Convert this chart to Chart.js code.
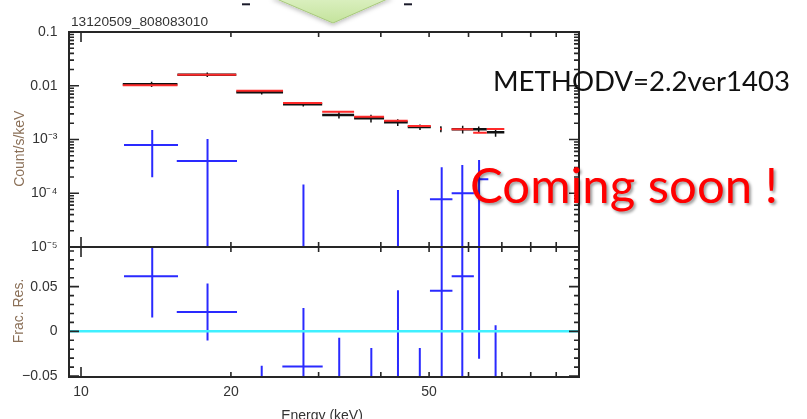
<!DOCTYPE html>
<html>
<head>
<meta charset="utf-8">
<script src="https://cdn.jsdelivr.net/npm/chart.js@4.4.1/dist/chart.umd.min.js"></script>
<style>
html, body { margin: 0; padding: 0; background: #fff; }
#wrap { position: relative; width: 807px; height: 419px; overflow: hidden; }
canvas { position: absolute; left: 0; top: 0; }
.txt { position: absolute; white-space: nowrap; line-height: 1; transform-origin: 0 0; }
#deco { position: absolute; left: 0; top: 0; }
</style>
</head>
<body>
<div id="wrap">
  <canvas id="rateChart" width="807" height="419"></canvas>
  <canvas id="resChart" width="807" height="419"></canvas>
  <svg id="deco" width="807" height="60">
    <defs>
      <linearGradient id="arrowFill" x1="0" y1="0" x2="0" y2="1">
        <stop offset="0" stop-color="#dcf0c2"/>
        <stop offset="1" stop-color="#c4e39c"/>
      </linearGradient>
      <filter id="arrowShadow" x="-20%" y="-50%" width="140%" height="200%">
        <feDropShadow dx="0" dy="2" stdDeviation="2" flood-color="#000" flood-opacity="0.25"/>
      </filter>
    </defs>
    <polygon points="272,-3 392,-3 333,23" fill="url(#arrowFill)" stroke="#a8c97c" stroke-width="1" filter="url(#arrowShadow)"/>
    <line x1="242" y1="4.3" x2="250" y2="4.3" stroke="#1a1a2a" stroke-width="2"/>
    <line x1="404" y1="4.3" x2="412" y2="4.3" stroke="#1a1a2a" stroke-width="2"/>
  </svg>
  <div class="txt" id="obsId" style="left:71px;top:14.6px;font-size:13.7px;font-family:'Liberation Sans',Arial,sans-serif;color:#333;">13120509_808083010</div>
  <div class="txt fit" data-w="297" style="left:493px;top:66.7px;font-size:27px;font-family:Lato,'Open Sans',sans-serif;color:#111;">METHODV=2.2ver1403</div>
  <div class="txt fit" data-w="308" style="left:470px;top:159.8px;font-size:49px;font-family:Lato,'Open Sans',sans-serif;color:#ff0000;text-shadow:2px 2px 3px rgba(0,0,0,0.4);">Coming soon !</div>
</div>

<script>
// energy bins of the black / red spectrum (keV)
const binLo  = [12.13, 15.62, 20.5, 25.45, 30.5, 35.35, 40.6, 45.3, 52.6, 55.5, 61.3, 65.3];
const binHi  = [15.62, 20.5, 25.45, 30.5, 35.35, 40.6, 45.3, 50.4, 53.0, 61.3, 65.3, 70.8];
const binMid = [13.86, 17.93, 23.06, 27.95, 32.96, 38.22, 43.25, 47.94, 52.8, 58.4, 62.9, 68.0];

// black data points (counts/s/keV) and 1-sigma errors
const dataRate = [0.0107, 0.0161, 0.00755, 0.00452, 0.00286, 0.00248, 0.00209, 0.00171, 0.00157, 0.00155, 0.00155, 0.00137];
const dataErr  = [0.0012, 0.0015, 0.0007, 0.0004, 0.0004, 0.0004, 0.0003, 0.0002, 0.0002, 0.00025, 0.0002, 0.00025];

// red model
const modelRate = [0.0102, 0.0161, 0.0081, 0.00477, 0.00329, 0.00265, 0.00224, 0.00178, 0.00157, 0.00155, 0.00134, 0.00156];

// blue spectrum bins
const blueLo  = [12.2, 15.57, 20.5, 25.37, 30.5, 35.35, 40.6, 45.3, 50.2, 55.5, 61.5, 65.3];
const blueHi  = [15.66, 20.57, 25.45, 30.57, 35.35, 40.6, 45.3, 50.2, 55.7, 61.5, 65.75, 70.8];
const blueMid = [13.9, 17.95, 23.06, 27.97, 33.0, 38.28, 43.3, 47.9, 53.0, 58.3, 63.0, 68.0];

// blue rate (null = below the plotted range), upper and lower error ends (0 = reaches below zero)
const blueRate = [7.9e-4, 4.0e-4, null, null, null, null, null, null, 7.7e-5, 1.0e-4, 1.82e-4, null];
const blueUp   = [1.5e-3, 1.02e-3, null, 1.46e-4, null, null, 1.15e-4, null, 3.04e-4, 3.36e-4, 4.16e-4, null];
const blueDown = [1.98e-4, 0, null, 0, null, null, 0, null, 0, 0, 0, null];

// fractional residuals of the blue spectrum
const resVal = [0.0618, 0.0217, -0.075, -0.0393, -0.065, -0.07, -0.065, -0.07, 0.0453, 0.0618, 0.12, -0.065];
const resErr = [0.0464, 0.0319, 0.0365, 0.0655, 0.0579, 0.0513, 0.111, 0.0513, 0.15, 0.15, 0.1507, 0.0717];

// axes
const xTickVals = [10, 20, 30, 40, 50, 60, 70, 80, 90, 100];
const xLabelVals = [10, 20, 50];
const rateLabelVals = [1e-5, 1e-4, 1e-3, 0.01, 0.1];
const rateLabels = ['10\u207B\u2075', '10\u207B\u2074', '10\u207B\u00B3', '0.01', '0.1'];
const resLabelVals = [-0.05, 0, 0.05];
const resLabels = ['\u22120.05', '0', '0.05'];

const X_MIN = 9.46, X_MAX = 100;
const RATE_MIN = 1e-5, RATE_MAX = 0.1;
const RES_MIN = -0.0511, RES_MAX = 0.0944;

const AXIS_COLOR = '#262626';
const TEXT_COLOR = '#333';
const TITLE_COLOR = '#8b7058';
const FONT = "'Liberation Sans', Arial, sans-serif";

function hLines(lo, hi, val) {
    const pts = [];
    val.forEach((v, i) => {
        if (v === null) return;
        pts.push({x: lo[i], y: v}, {x: hi[i], y: v}, {x: hi[i], y: null});
    });
    return pts;
}

function vLines(mid, down, up, floor) {
    const pts = [];
    mid.forEach((m, i) => {
        if (up[i] === null) return;
        const d = (floor !== undefined) ? Math.max(down[i], floor) : down[i];
        pts.push({x: m, y: d}, {x: m, y: up[i]}, {x: m, y: null});
    });
    return pts;
}

function seg(data, color, width, order) {
    return {
        data: data, showLine: true, borderColor: color, borderWidth: width,
        pointRadius: 0, pointHoverRadius: 0, fill: false, spanGaps: false,
        tension: 0, clip: 0, order: order
    };
}

function xScale(showLabels) {
    return {
        type: 'logarithmic', min: X_MIN, max: X_MAX, bounds: 'data',
        afterBuildTicks: s => { s.ticks = xTickVals.map(v => ({value: v})); },
        afterFit: s => { s.height = showLabels ? 42 : 0; },
        grid: {display: true, drawOnChartArea: false, drawTicks: false},
        border: {display: false},
        ticks: {
            display: showLabels, autoSkip: false, maxRotation: 0, minRotation: 0, padding: 7,
            color: TEXT_COLOR, font: {family: FONT, size: 14},
            callback: v => xLabelVals.includes(v) ? String(v) : ''
        }
    };
}

// frame with inward ticks on all four sides plus axis titles
function framePlugin(isMajorY, yTitle, yTitleX, yTitleY, withXTitle) {
    return {
        id: 'frame',
        afterDraw(chart) {
            const ctx = chart.ctx;
            const a = chart.chartArea;
            const xs = chart.scales.x, ys = chart.scales.y;
            ctx.save();
            ctx.strokeStyle = AXIS_COLOR;
            ctx.lineWidth = 2;
            ctx.strokeRect(a.left, a.top, a.right - a.left, a.bottom - a.top);
            ctx.lineWidth = 1.6;
            ctx.beginPath();
            xTickVals.forEach(v => {
                const px = xs.getPixelForValue(v);
                const len = (v === 10 || v === 100) ? 10 : 5;
                ctx.moveTo(px, a.top); ctx.lineTo(px, a.top + len);
                ctx.moveTo(px, a.bottom); ctx.lineTo(px, a.bottom - len);
            });
            ys.ticks.forEach(t => {
                const py = ys.getPixelForValue(t.value);
                const len = isMajorY(t.value) ? 10 : 5;
                ctx.moveTo(a.left, py); ctx.lineTo(a.left + len, py);
                ctx.moveTo(a.right, py); ctx.lineTo(a.right - len, py);
            });
            ctx.stroke();

            ctx.fillStyle = TITLE_COLOR;
            ctx.font = '14px ' + FONT;
            ctx.textAlign = 'center';
            ctx.textBaseline = 'middle';
            ctx.save();
            ctx.translate(yTitleX, yTitleY);
            ctx.rotate(-Math.PI / 2);
            ctx.fillText(yTitle, 0, 0);
            ctx.restore();

            if (withXTitle) {
                ctx.fillStyle = TEXT_COLOR;
                ctx.textBaseline = 'alphabetic';
                ctx.fillText('Energy (keV)', (a.left + a.right) / 2 - 2, 420);
            }
            ctx.restore();
        }
    };
}

const isDecade = v => Math.abs(Math.log10(v) - Math.round(Math.log10(v))) < 1e-6;
const isFiveHundredth = v => Math.abs(v * 20 - Math.round(v * 20)) < 1e-6;

// upper panel: count rate
new Chart(document.getElementById('rateChart'), {
    type: 'scatter',
    data: {
        datasets: [
            seg(hLines(blueLo, blueHi, blueRate), '#2a2aff', 2, 1),
            seg(vLines(blueMid, blueDown, blueUp, RATE_MIN / 10), '#2a2aff', 2, 1),
            seg(hLines(binLo, binHi, modelRate), '#ff2a2a', 2, 2),
            seg(hLines(binLo, binHi, dataRate), '#111', 2.5, 3),
            seg(vLines(binMid, dataRate.map((r, i) => r - dataErr[i]), dataRate.map((r, i) => r + dataErr[i])), '#111', 1.5, 3)
        ]
    },
    options: {
        responsive: false, animation: false,
        layout: {padding: {left: 0, right: 228, top: 32, bottom: 172}},
        plugins: {legend: {display: false}, tooltip: {enabled: false}},
        scales: {
            x: xScale(false),
            y: {
                type: 'logarithmic', min: RATE_MIN, max: RATE_MAX, bounds: 'data',
                afterBuildTicks: s => {
                    const t = [];
                    for (let e = -5; e <= -1; e++) {
                        for (let m = 1; m <= 9; m++) {
                            const v = m * Math.pow(10, e);
                            if (v <= RATE_MAX * 1.0001) t.push({value: v});
                        }
                    }
                    s.ticks = t;
                },
                afterFit: s => { s.width = 69; },
                grid: {display: true, drawOnChartArea: false, drawTicks: false},
                border: {display: false},
                ticks: {
                    autoSkip: false, padding: 11.5, color: TEXT_COLOR, font: {family: FONT, size: 14},
                    callback: v => {
                        const i = rateLabelVals.findIndex(r => Math.abs(v / r - 1) < 1e-6);
                        return i < 0 ? '' : rateLabels[i];
                    }
                }
            }
        }
    },
    plugins: [framePlugin(isDecade, 'Count/s/keV', 20, 148.7, false)]
});

// lower panel: fractional residuals
new Chart(document.getElementById('resChart'), {
    type: 'scatter',
    data: {
        datasets: [
            seg([{x: X_MIN, y: 0}, {x: X_MAX, y: 0}], '#40f0ff', 2.5, 0),
            seg(hLines(blueLo, blueHi, resVal), '#2a2aff', 2, 1),
            seg(vLines(blueMid, resVal.map((r, i) => r - resErr[i]), resVal.map((r, i) => r + resErr[i])), '#2a2aff', 2, 1)
        ]
    },
    options: {
        responsive: false, animation: false,
        layout: {padding: {left: 0, right: 228, top: 247, bottom: 0}},
        plugins: {legend: {display: false}, tooltip: {enabled: false}},
        scales: {
            x: xScale(true),
            y: {
                type: 'linear', min: RES_MIN, max: RES_MAX, bounds: 'data',
                afterBuildTicks: s => {
                    const t = [];
                    for (let k = -5; k <= 9; k++) t.push({value: k / 100});
                    s.ticks = t;
                },
                afterFit: s => { s.width = 69; },
                grid: {display: true, drawOnChartArea: false, drawTicks: false},
                border: {display: false},
                ticks: {
                    autoSkip: false, padding: 11.5, color: TEXT_COLOR, font: {family: FONT, size: 14},
                    callback: v => {
                        const i = resLabelVals.findIndex(r => Math.abs(r - v) < 1e-9);
                        return i < 0 ? '' : resLabels[i];
                    }
                }
            }
        }
    },
    plugins: [framePlugin(isFiveHundredth, 'Frac. Res.', 19.5, 311, true)]
});

// stretch the overlay captions to the width they have in the slide
function fitCaptions() {
    document.querySelectorAll('.fit').forEach(el => {
        el.style.transform = 'none';
        const w = el.getBoundingClientRect().width;
        el.style.transform = 'scaleX(' + (Number(el.dataset.w) / w) + ')';
    });
}
fitCaptions();
if (document.fonts) document.fonts.ready.then(fitCaptions);
</script>
</body>
</html>
